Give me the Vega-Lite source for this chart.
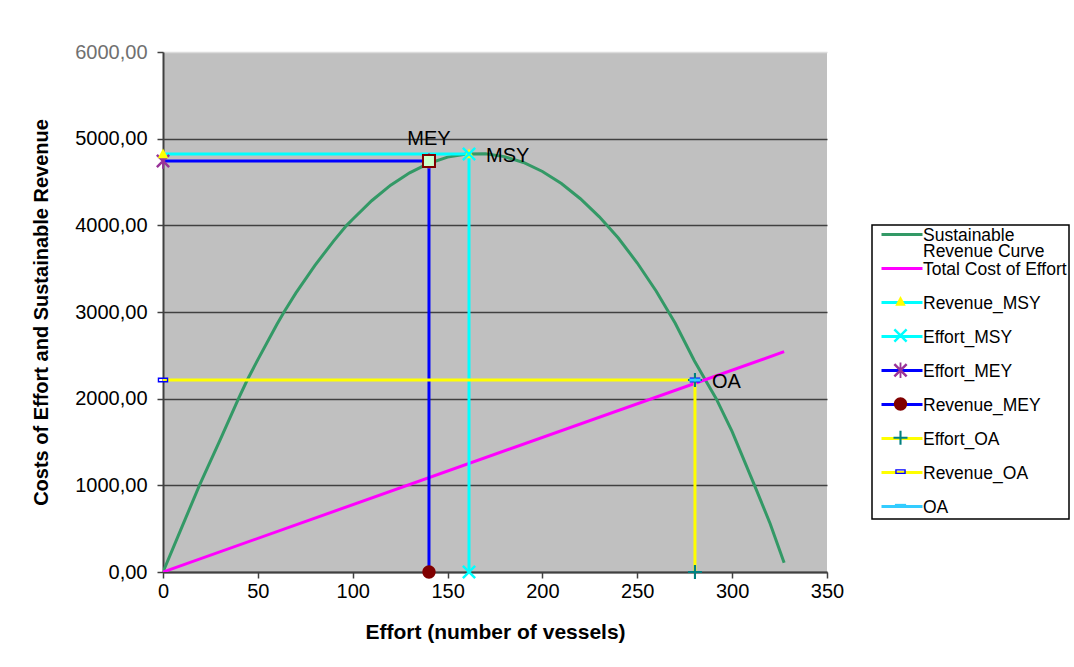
{
  "$schema": "https://vega.github.io/schema/vega-lite/v6.json",
  "width": 664,
  "height": 520,
  "autosize": {"type": "none"},
  "padding": {"left": 163, "top": 52, "right": 247, "bottom": 95},
  "background": "white",
  "config": {
    "font": "Liberation Sans",
    "view": {"fill": "#c0c0c0", "stroke": null},
    "legend": {"labelFont": "Liberation Sans", "labelColor": "black"},
    "text": {"font": "Liberation Sans"}
  },
  "datasets": {
    "lines": [
      {"series": "Sustainable Revenue Curve", "E": 0, "R": 0},
      {"series": "Sustainable Revenue Curve", "E": 10, "R": 520},
      {"series": "Sustainable Revenue Curve", "E": 19.2, "R": 1000},
      {"series": "Sustainable Revenue Curve", "E": 30, "R": 1520},
      {"series": "Sustainable Revenue Curve", "E": 39.8, "R": 2000},
      {"series": "Sustainable Revenue Curve", "E": 44.4, "R": 2215},
      {"series": "Sustainable Revenue Curve", "E": 50, "R": 2450},
      {"series": "Sustainable Revenue Curve", "E": 60, "R": 2855},
      {"series": "Sustainable Revenue Curve", "E": 63.8, "R": 3000},
      {"series": "Sustainable Revenue Curve", "E": 70, "R": 3217},
      {"series": "Sustainable Revenue Curve", "E": 80, "R": 3536},
      {"series": "Sustainable Revenue Curve", "E": 90, "R": 3821},
      {"series": "Sustainable Revenue Curve", "E": 96.8, "R": 4000},
      {"series": "Sustainable Revenue Curve", "E": 100, "R": 4070},
      {"series": "Sustainable Revenue Curve", "E": 110, "R": 4284},
      {"series": "Sustainable Revenue Curve", "E": 120, "R": 4463},
      {"series": "Sustainable Revenue Curve", "E": 130, "R": 4606},
      {"series": "Sustainable Revenue Curve", "E": 140, "R": 4714},
      {"series": "Sustainable Revenue Curve", "E": 150, "R": 4787},
      {"series": "Sustainable Revenue Curve", "E": 160, "R": 4824},
      {"series": "Sustainable Revenue Curve", "E": 170, "R": 4827},
      {"series": "Sustainable Revenue Curve", "E": 180, "R": 4793},
      {"series": "Sustainable Revenue Curve", "E": 190, "R": 4725},
      {"series": "Sustainable Revenue Curve", "E": 200, "R": 4621},
      {"series": "Sustainable Revenue Curve", "E": 210, "R": 4482},
      {"series": "Sustainable Revenue Curve", "E": 220, "R": 4307},
      {"series": "Sustainable Revenue Curve", "E": 230, "R": 4098},
      {"series": "Sustainable Revenue Curve", "E": 240, "R": 3853},
      {"series": "Sustainable Revenue Curve", "E": 250, "R": 3565},
      {"series": "Sustainable Revenue Curve", "E": 260, "R": 3240},
      {"series": "Sustainable Revenue Curve", "E": 270, "R": 2870},
      {"series": "Sustainable Revenue Curve", "E": 280, "R": 2440},
      {"series": "Sustainable Revenue Curve", "E": 285.9, "R": 2215},
      {"series": "Sustainable Revenue Curve", "E": 291.6, "R": 2000},
      {"series": "Sustainable Revenue Curve", "E": 300, "R": 1620},
      {"series": "Sustainable Revenue Curve", "E": 311.8, "R": 1000},
      {"series": "Sustainable Revenue Curve", "E": 320, "R": 560},
      {"series": "Sustainable Revenue Curve", "E": 327.4, "R": 107},
      {"series": "Total Cost of Effort", "E": 0, "R": 0},
      {"series": "Total Cost of Effort", "E": 327.4, "R": 2542},
      {"series": "Revenue_MSY", "E": 0, "R": 4823},
      {"series": "Revenue_MSY", "E": 161.3, "R": 4823},
      {"series": "Effort_MSY", "E": 161.3, "R": 0},
      {"series": "Effort_MSY", "E": 161.3, "R": 4823},
      {"series": "Effort_MEY", "E": 0, "R": 4742},
      {"series": "Effort_MEY", "E": 140.2, "R": 4742},
      {"series": "Revenue_MEY", "E": 140.2, "R": 0},
      {"series": "Revenue_MEY", "E": 140.2, "R": 4742},
      {"series": "Effort_OA", "E": 280.4, "R": 0},
      {"series": "Effort_OA", "E": 280.4, "R": 2215},
      {"series": "Revenue_OA", "E": 0, "R": 2215},
      {"series": "Revenue_OA", "E": 280.4, "R": 2215}
    ],
    "markers": [
      {"marker": "Revenue_MEY marker", "E": 140.2, "R": 0},
      {"marker": "Revenue_MEY marker", "E": 140.2, "R": 4742},
      {"marker": "Effort_MEY marker", "E": 0, "R": 4742},
      {"marker": "Effort_MEY marker", "E": 140.2, "R": 4742},
      {"marker": "Revenue_MSY marker", "E": 0, "R": 4823},
      {"marker": "Revenue_MSY marker", "E": 161.3, "R": 4823},
      {"marker": "Effort_MSY marker", "E": 161.3, "R": 0},
      {"marker": "Effort_MSY marker", "E": 161.3, "R": 4823},
      {"marker": "Revenue_OA marker", "E": 0, "R": 2215},
      {"marker": "Revenue_OA marker", "E": 280.4, "R": 2215},
      {"marker": "Effort_OA marker", "E": 280.4, "R": 0},
      {"marker": "Effort_OA marker", "E": 280.4, "R": 2215},
      {"marker": "OA marker", "E": 280.4, "R": 2215}
    ],
    "labels": [
      {"label": "MEY", "E": 140.2, "R": 4742},
      {"label": "MSY", "E": 161.3, "R": 4823},
      {"label": "OA", "E": 280.4, "R": 2215}
    ]
  },
  "layer": [
    {
      "data": {"name": "lines"},
      "mark": {"type": "line", "strokeWidth": 3, "clip": true},
      "encoding": {
        "x": {
          "field": "E",
          "type": "quantitative",
          "title": "Effort (number of vessels)",
          "scale": {"domain": [0, 350], "nice": false, "zero": false},
          "axis": {
            "values": [0, 50, 100, 150, 200, 250, 300, 350],
            "grid": false,
            "domainColor": "#404040",
            "domainWidth": 2,
            "tickColor": "#404040",
            "tickWidth": 1.5,
            "tickSize": 6,
            "labelFontSize": 20,
            "labelColor": "black",
            "labelPadding": 3,
            "labelFlush": false,
            "labelOverlap": false,
            "titleFontSize": 21,
            "titleFontWeight": "bold",
            "titleColor": "black",
            "titlePadding": 20
          }
        },
        "y": {
          "field": "R",
          "type": "quantitative",
          "title": "Costs of Effort and Sustainable Revenue",
          "scale": {"domain": [0, 6000], "nice": false},
          "axis": {
            "values": [0, 1000, 2000, 3000, 4000, 5000, 6000],
            "grid": true,
            "gridColor": {"condition": {"test": "datum.value === 6000", "value": "#dcdcdc"}, "value": "#404040"},
            "gridWidth": 1.5,
            "domainColor": "#404040",
            "domainWidth": 2,
            "tickColor": "#404040",
            "tickWidth": 1.5,
            "tickSize": 6,
            "labelExpr": "replace(format(datum.value, '.2f'), '.', ',')",
            "labelFontSize": 20,
            "labelColor": {"condition": {"test": "datum.value === 6000", "value": "#707070"}, "value": "black"},
            "labelPadding": 10,
            "labelOverlap": false,
            "labelFlush": false,
            "titleFontSize": 20,
            "titleFontWeight": "bold",
            "titleColor": "black",
            "titleBaseline": "middle",
            "titleX": -122
          }
        },
        "stroke": {
          "field": "series",
          "type": "nominal",
          "scale": {
            "domain": ["Sustainable Revenue Curve", "Total Cost of Effort", "Revenue_MSY", "Effort_MSY", "Effort_MEY", "Revenue_MEY", "Effort_OA", "Revenue_OA", "OA"],
            "range": ["#339966", "#ff00ff", "#00ffff", "#00ffff", "#0000ff", "#0000ff", "#ffff00", "#ffff00", "#33ccff"]
          },
          "legend": {
            "orient": "none",
            "legendX": 709,
            "legendY": 173,
            "title": null,
            "padding": 2,
            "strokeColor": "black",
            "symbolType": "stroke",
            "symbolSize": 1681,
            "symbolStrokeWidth": 3,
            "symbolOffset": 6,
            "labelOffset": -1,
            "labelFontSize": 17.5,
            "labelLimit": 400,
            "labelBaseline": "top",
            "labelExpr": "datum.label === 'Sustainable Revenue Curve' ? ['Sustainable', 'Revenue Curve'] : datum.label === 'OA' ? 'OA' : [datum.label, ' ']",
            "rowPadding": 0,
            "zindex": 0,
            "encode": {
              "labels": {"update": {"y": {"value": 0}, "dy": {"value": 0}, "baseline": {"value": "top"}, "lineHeight": {"value": 15.8}}},
              "symbols": {"update": {"y": {"value": 7.5}}},
              "legend": {"update": {"strokeWidth": {"value": 1.5}}}
            }
          }
        }
      }
    },
    {
      "data": {"name": "markers"},
      "mark": {"type": "point", "filled": true, "size": 196, "opacity": 1, "strokeWidth": 0},
      "encoding": {
        "x": {"field": "E", "type": "quantitative", "title": "Effort (number of vessels)"},
        "y": {"field": "R", "type": "quantitative", "title": "Costs of Effort and Sustainable Revenue"},
        "shape": {
          "field": "marker",
          "type": "nominal",
          "scale": {
            "domain": ["curve marker", "cost marker", "Revenue_MSY marker", "Effort_MSY marker", "Effort_MEY marker", "Revenue_MEY marker", "Effort_OA marker", "Revenue_OA marker", "OA marker"],
            "range": [
              "M0,0",
              "M0,0",
              "M0,-0.8L0.75,0.6L-0.75,0.6Z",
              "M-1,-0.75L-0.75,-1L1,0.75L0.75,1ZM0.75,-1L1,-0.75L-0.75,1L-1,0.75Z",
              "M-1,-0.75L-0.75,-1L1,0.75L0.75,1ZM0.75,-1L1,-0.75L-0.75,1L-1,0.75ZM-0.13,-1.1L0.13,-1.1L0.13,1.1L-0.13,1.1Z",
              "M0.95,0A0.95,0.95,0,1,1,-0.95,0A0.95,0.95,0,1,1,0.95,0Z",
              "M-1,-0.15L1,-0.15L1,0.15L-1,0.15ZM-0.15,-1L0.15,-1L0.15,1L-0.15,1Z",
              "M-0.75,-0.35L0.75,-0.35L0.75,0.35L-0.75,0.35ZM-0.55,-0.15L-0.55,0.15L0.55,0.15L0.55,-0.15Z",
              "M-0.8,-0.22L0.8,-0.22L0.8,0.22L-0.8,0.22Z"
            ]
          },
          "legend": {
            "orient": "none",
            "legendX": 709,
            "legendY": 173,
            "title": null,
            "padding": 2,
            "symbolSize": 196,
            "symbolStrokeWidth": 0,
            "symbolOffset": 19.5,
            "labelOpacity": 0,
            "labelFontSize": 12,
            "labelBaseline": "top",
            "labelExpr": "[datum.label, ' ']",
            "rowPadding": 1.8,
            "zindex": 1,
            "encode": {
              "labels": {"update": {"y": {"value": 0}, "dy": {"value": 0}, "baseline": {"value": "top"}, "lineHeight": {"value": 15.8}}},
              "symbols": {"update": {"y": {"value": 7.5}}}
            }
          }
        },
        "fill": {
          "field": "marker",
          "type": "nominal",
          "scale": {
            "domain": ["curve marker", "cost marker", "Revenue_MSY marker", "Effort_MSY marker", "Effort_MEY marker", "Revenue_MEY marker", "Effort_OA marker", "Revenue_OA marker", "OA marker"],
            "range": ["transparent", "transparent", "#ffff00", "#00ffff", "#993399", "#800000", "#008080", "#0000ff", "#33ccff"]
          },
          "legend": {
            "orient": "none",
            "legendX": 709,
            "legendY": 173,
            "title": null,
            "padding": 2,
            "symbolSize": 196,
            "symbolStrokeWidth": 0,
            "symbolOffset": 19.5,
            "labelOpacity": 0,
            "labelFontSize": 12,
            "labelBaseline": "top",
            "labelExpr": "[datum.label, ' ']",
            "rowPadding": 1.8,
            "zindex": 1,
            "encode": {
              "labels": {"update": {"y": {"value": 0}, "dy": {"value": 0}, "baseline": {"value": "top"}, "lineHeight": {"value": 15.8}}},
              "symbols": {"update": {"y": {"value": 7.5}}}
            }
          }
        }
      }
    },
    {
      "data": {"name": "labels"},
      "transform": [{"filter": "datum.label === 'MEY'"}],
      "mark": {"type": "point", "shape": "square", "size": 144, "filled": true, "fill": "#ccffcc", "stroke": "#800000", "strokeWidth": 2, "opacity": 1},
      "encoding": {
        "x": {"field": "E", "type": "quantitative", "title": "Effort (number of vessels)"},
        "y": {"field": "R", "type": "quantitative", "title": "Costs of Effort and Sustainable Revenue"}
      }
    },
    {
      "data": {"name": "labels"},
      "transform": [{"filter": "datum.label === 'MEY'"}],
      "mark": {"type": "text", "fontSize": 20, "align": "center", "baseline": "middle", "dy": -22, "color": "black"},
      "encoding": {
        "x": {"field": "E", "type": "quantitative", "title": "Effort (number of vessels)"},
        "y": {"field": "R", "type": "quantitative", "title": "Costs of Effort and Sustainable Revenue"},
        "text": {"field": "label"}
      }
    },
    {
      "data": {"name": "labels"},
      "transform": [{"filter": "datum.label !== 'MEY'"}],
      "mark": {"type": "text", "fontSize": 20, "align": "left", "baseline": "middle", "dx": 17, "dy": 2, "color": "black"},
      "encoding": {
        "x": {"field": "E", "type": "quantitative", "title": "Effort (number of vessels)"},
        "y": {"field": "R", "type": "quantitative", "title": "Costs of Effort and Sustainable Revenue"},
        "text": {"field": "label"}
      }
    }
  ]
}
